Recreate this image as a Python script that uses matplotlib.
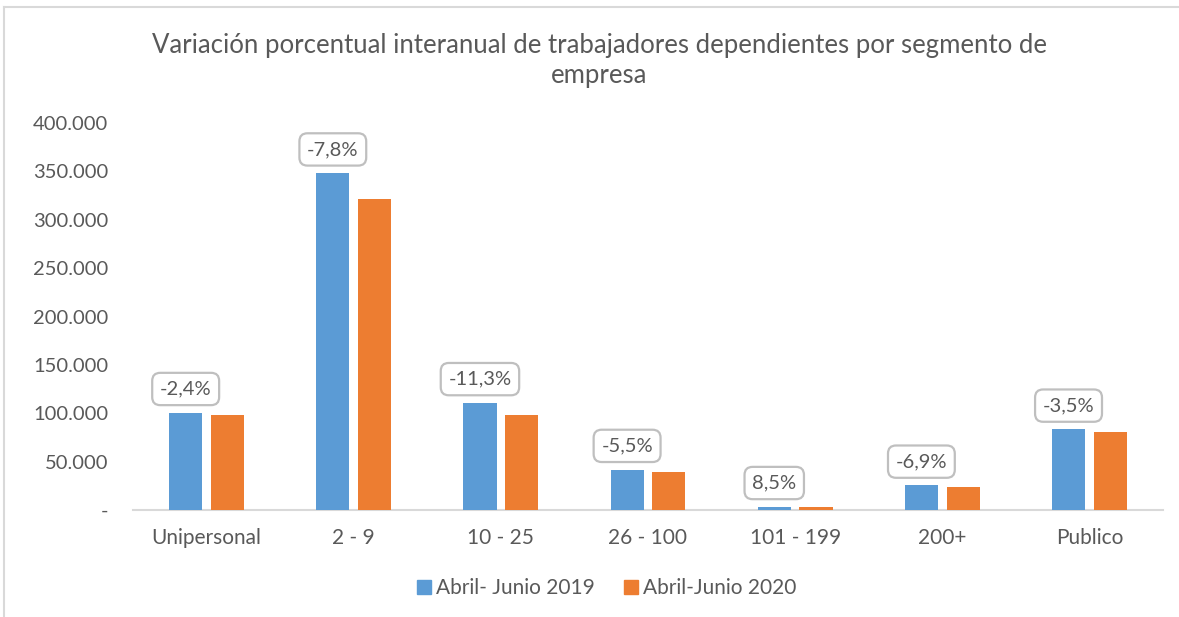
import matplotlib
matplotlib.use("Agg")
import matplotlib.pyplot as plt
from matplotlib.lines import Line2D
import numpy as np

categories = ["Unipersonal", "2 - 9", "10 - 25", "26 - 100", "101 - 199", "200+", "Publico"]
serie_2019 = [100500, 348100, 110700, 41700, 3300, 25400, 83300]
serie_2020 = [98100, 321100, 98100, 39400, 3600, 23650, 80400]
variacion = ["-2,4%", "-7,8%", "-11,3%", "-5,5%", "8,5%", "-6,9%", "-3,5%"]
series_names = ["Abril- Junio 2019", "Abril-Junio 2020"]
yticks = [0, 50000, 100000, 150000, 200000, 250000, 300000, 350000, 400000]
ytick_labels = ["-", "50.000", "100.000", "150.000", "200.000", "250.000", "300.000", "350.000", "400.000"]

BLUE = "#5B9BD5"
ORANGE = "#ED7D31"
GRAY = "#595959"
plt.rcParams['font.family'] = ['Lato', 'DejaVu Sans']

W, H = 1179, 617
fig = plt.figure(figsize=(W / 100, H / 100), dpi=100)
ax = fig.add_axes([133 / W, (H - 510) / H, (1163 - 133) / W, (510 - 123) / H])

x = np.arange(len(categories))
bw = 0.225
off = 0.142
ax.bar(x - off, serie_2019, width=bw, color=BLUE, label=series_names[0], zorder=3)
ax.bar(x + off, serie_2020, width=bw, color=ORANGE, label=series_names[1], zorder=3)

for xi, v, lab in zip(x, serie_2019, variacion):
    ax.annotate(lab, xy=(xi - off, v), xytext=(0, 11), textcoords="offset points",
                ha="center", va="bottom", fontsize=14.5, color=GRAY,
                bbox=dict(boxstyle="round,pad=0.38,rounding_size=0.4", fc="white",
                          ec="#BFBFBF", lw=1.6))

ax.set_xlim(-0.5, len(categories) - 0.5)
ax.set_ylim(0, 400000)
ax.set_yticks(yticks)
ax.set_yticklabels(ytick_labels, fontsize=14.5, color=GRAY)
ax.set_xticks(x)
ax.set_xticklabels(categories, fontsize=15, color=GRAY)
ax.tick_params(axis="y", length=0, pad=18)
ax.tick_params(axis="x", length=0, pad=13)
for s in ["top", "right", "left"]:
    ax.spines[s].set_visible(False)
ax.spines["bottom"].set_color("#D9D9D9")
ax.spines["bottom"].set_linewidth(1.5)

fig.text(599 / W, (H - 45) / H, "Variación porcentual interanual de trabajadores dependientes por segmento de",
         ha="center", va="center", fontsize=18.5, color=GRAY)
fig.text(599 / W, (H - 75) / H, "empresa", ha="center", va="center", fontsize=18.5, color=GRAY)

handles = [Line2D([], [], marker="s", ls="", color=BLUE, markersize=10),
           Line2D([], [], marker="s", ls="", color=ORANGE, markersize=10)]
fig.legend(handles, series_names, loc="center", bbox_to_anchor=(0.513, (H - 588) / H),
           ncol=2, frameon=False, fontsize=15, labelcolor=GRAY, handletextpad=0.05,
           columnspacing=1.27, handlelength=1.0)

# chart frame
fig.add_artist(Line2D([4 / W, 1], [(H - 7) / H, (H - 7) / H], color="#D9D9D9", lw=1.5))
fig.add_artist(Line2D([4 / W, 4 / W], [0, (H - 7) / H], color="#D9D9D9", lw=1.5))

fig.savefig("out.png", dpi=100)
